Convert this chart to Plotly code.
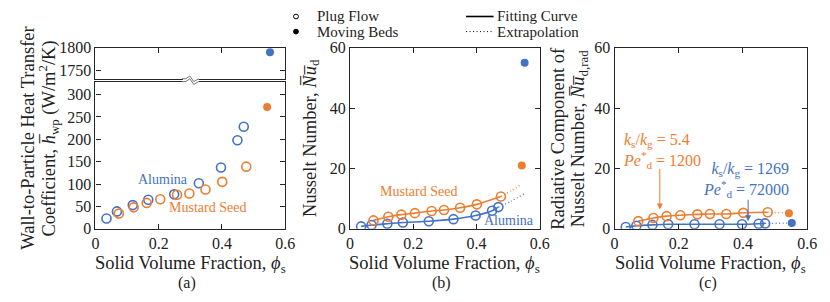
import plotly.graph_objects as go

# ---------------- data ----------------
phi_alumina = [0.035, 0.068, 0.118, 0.167, 0.249, 0.327, 0.397, 0.449, 0.469]
phi_mustard = [0.074, 0.121, 0.162, 0.205, 0.258, 0.297, 0.348, 0.401, 0.477]
phi_moving_alumina = [0.552]
phi_moving_mustard = [0.543]

h_alumina = [23, 39, 53, 65, 77, 102, 137, 198, 228]
h_mustard = [34, 48, 58, 66, 76, 79, 88, 105, 139]
h_moving_alumina = [1790]
h_moving_mustard = [272]

nu_alumina = [0.8, 1.25, 1.7, 2.1, 2.5, 3.2, 4.4, 6.0, 7.2]
nu_mustard = [2.8, 4.0, 4.7, 5.2, 5.9, 6.25, 7.0, 8.1, 10.7]
nu_moving_alumina = [55]
nu_moving_mustard = [21]
phi_extrap_alumina = [0.469, 0.51, 0.552]
nu_extrap_alumina = [7.2, 9.2, 11.7]
phi_extrap_mustard = [0.477, 0.51, 0.543]
nu_extrap_mustard = [10.7, 12.6, 14.8]

nurad_alumina = [0.6, 1.0, 1.3, 1.5, 1.5, 1.5, 1.5, 1.7, 1.8]
nurad_mustard = [2.55, 3.6, 4.2, 4.5, 4.8, 4.9, 4.9, 5.3, 5.5]
nurad_moving_alumina = [1.9]
nurad_moving_mustard = [5.2]

x_ticks = [0, 0.2, 0.4, 0.6]
x_ticklabels = ["0", "0.2", "0.4", "0.6"]
ya_low_ticks = [0, 50, 100, 150, 200, 250, 300]
ya_up_ticks = [1750, 1800]
y_nu_ticks = [0, 20, 40, 60]

legend_marker_labels = ["Plug Flow", "Moving Beds"]
legend_line_labels = ["Fitting Curve", "Extrapolation"]

BLUE = "#4472C4"
ORANGE = "#ED7D31"
AX = "#262626"
TXT = "#222222"
FONT = "'Liberation Serif', 'Times New Roman', 'DejaVu Serif', serif"
DOT = "1px,2.5px"
W, H = 830, 302


def px(xp):
    return xp / W


def py(yp):
    return 1 - yp / H


fig = go.Figure()


def open_pts(x, y, color, xa, ya):
    fig.add_trace(go.Scatter(x=x, y=y, mode="markers", xaxis=xa, yaxis=ya, showlegend=False,
                             marker=dict(symbol="circle-open", size=9, color=color,
                                         line=dict(width=1.6, color=color))))


def filled_pts(x, y, color, xa, ya):
    fig.add_trace(go.Scatter(x=x, y=y, mode="markers", xaxis=xa, yaxis=ya, showlegend=False,
                             marker=dict(symbol="circle", size=8, color=color)))


def fit_line(x, y, color, xa, ya, dotted=False):
    if dotted:
        line = dict(color=color, width=1.3, dash=DOT, shape="spline", smoothing=0.6)
    else:
        line = dict(color=color, width=1.6, shape="spline", smoothing=0.6)
    fig.add_trace(go.Scatter(x=x, y=y, mode="lines", xaxis=xa, yaxis=ya, showlegend=False, line=line))


# panel (a)
open_pts(phi_alumina, h_alumina, BLUE, "x", "y")
open_pts(phi_mustard, h_mustard, ORANGE, "x", "y")
filled_pts(phi_moving_mustard, h_moving_mustard, ORANGE, "x", "y")
filled_pts(phi_moving_alumina, h_moving_alumina, BLUE, "x2", "y2")

# panel (b)
fit_line(phi_alumina, nu_alumina, BLUE, "x3", "y3")
fit_line(phi_mustard, nu_mustard, ORANGE, "x3", "y3")
fit_line(phi_extrap_alumina, nu_extrap_alumina, BLUE, "x3", "y3", True)
fit_line(phi_extrap_mustard, nu_extrap_mustard, ORANGE, "x3", "y3", True)
open_pts(phi_alumina, nu_alumina, BLUE, "x3", "y3")
open_pts(phi_mustard, nu_mustard, ORANGE, "x3", "y3")
filled_pts(phi_moving_alumina, nu_moving_alumina, BLUE, "x3", "y3")
filled_pts(phi_moving_mustard, nu_moving_mustard, ORANGE, "x3", "y3")

# panel (c)
fit_line(phi_alumina, nurad_alumina, BLUE, "x4", "y4")
fit_line(phi_mustard, nurad_mustard, ORANGE, "x4", "y4")
fit_line([phi_alumina[-1], phi_moving_alumina[0]], [nurad_alumina[-1], nurad_moving_alumina[0]], BLUE, "x4", "y4", True)
fit_line([phi_mustard[-1], phi_moving_mustard[0]], [nurad_mustard[-1], nurad_moving_mustard[0]], ORANGE, "x4", "y4", True)
open_pts(phi_alumina, nurad_alumina, BLUE, "x4", "y4")
open_pts(phi_mustard, nurad_mustard, ORANGE, "x4", "y4")
filled_pts(phi_moving_alumina, nurad_moving_alumina, BLUE, "x4", "y4")
filled_pts(phi_moving_mustard, nurad_moving_mustard, ORANGE, "x4", "y4")

tickfont = dict(family=FONT, size=16, color=TXT)
xa_common = dict(range=[0, 0.6], tickvals=x_ticks, ticktext=x_ticklabels, ticks="inside", ticklen=5,
                 showline=True, linecolor=AX, linewidth=1.2, showgrid=False, zeroline=False,
                 tickcolor=AX, tickfont=tickfont, ticklabeloverflow="allow")
ya_common = dict(ticks="inside", ticklen=5, showline=True, linecolor=AX, linewidth=1.2, mirror="ticks",
                 showgrid=False, zeroline=False, tickcolor=AX, tickfont=tickfont, ticklabeloverflow="allow")

dom_a = [px(93), px(286)]
dom_b = [px(352), px(545)]
dom_c = [px(621), px(817)]
ydom = [py(234), py(42)]

fig.update_layout(
    width=W, height=H, margin=dict(l=0, r=0, t=0, b=0),
    paper_bgcolor="white", plot_bgcolor="white",
    font=dict(family=FONT, color=TXT),
    showlegend=False,
    xaxis=dict(domain=dom_a, anchor="y", mirror=True, **xa_common),
    yaxis=dict(domain=[py(234), py(78)], anchor="x", range=[0, 329], tickvals=ya_low_ticks, **ya_common),
    xaxis2=dict(domain=dom_a, anchor="y2", side="top", mirror=True, showticklabels=False, matches="x",
                **xa_common),
    yaxis2=dict(domain=[py(75), py(42)], anchor="x2", range=[1731, 1800], tickvals=ya_up_ticks, **ya_common),
    xaxis3=dict(domain=dom_b, anchor="y3", mirror="ticks", **xa_common),
    yaxis3=dict(domain=ydom, anchor="x3", range=[0, 60], tickvals=y_nu_ticks, **ya_common),
    xaxis4=dict(domain=dom_c, anchor="y4", mirror="ticks", **xa_common),
    yaxis4=dict(domain=ydom, anchor="x4", range=[0, 60], tickvals=y_nu_ticks, **ya_common),
)

ann = []
tf = dict(family=FONT, size=18.5, color=TXT)
# y titles
ann.append(dict(text="Wall-to-Particle Heat Transfer", x=px(25), y=py(138), textangle=-90, font=tf))
ann.append(dict(text="Coefficient, <i>h\u0305</i><sub>wp</sub> (W/m<sup>2</sup>/K)", x=px(45), y=py(138),
                textangle=-90, font=tf))
ann.append(dict(text="Nusselt Number, <i>N\u0305u\u0305</i><sub>d</sub>", x=px(312), y=py(138), textangle=-90, font=tf))
ann.append(dict(text="Radiative Component of", x=px(564), y=py(138), textangle=-90, font=tf))
ann.append(dict(text="Nusselt Number, <i>N\u0305u\u0305</i><sub>d,rad</sub>", x=px(585), y=py(138), textangle=-90,
                font=tf))
# x titles and panel letters
for cx, letter in [((93 + 286) / 2, "(a)"), ((352 + 545) / 2, "(b)"), ((621 + 817) / 2, "(c)")]:
    ann.append(dict(text="Solid Volume Fraction, <i>\u03d5</i><sub>s</sub>", x=px(cx), y=py(272), font=tf))
    ann.append(dict(text=letter, x=px(cx - 3), y=py(291), font=dict(family=FONT, size=16, color=TXT)))

lf = dict(family=FONT, size=14)
ann.append(dict(text="Alumina", xref="x", yref="y", x=0.214, y=110, font=dict(color=BLUE, **lf)))
ann.append(dict(text="Mustard Seed", xref="x", yref="y", x=0.353, y=48, font=dict(color=ORANGE, **lf)))
ann.append(dict(text="Mustard Seed", xref="x3", yref="y3", x=0.217, y=12.2, font=dict(color=ORANGE, **lf)))
ann.append(dict(text="Alumina", xref="x3", yref="y3", x=0.502, y=2.8, font=dict(color=BLUE, **lf)))

cf = dict(family=FONT, size=16)
ann.append(dict(text="<i>k</i><sub>s</sub>/<i>k</i><sub>g</sub> = 5.4<br><i>Pe</i><sup>*</sup><sub>d</sub> = 1200",
                x=px(628), y=py(151), xanchor="left", align="left", font=dict(color=ORANGE, **cf)))
ann.append(dict(text="<i>k</i><sub>s</sub>/<i>k</i><sub>g</sub> = 1269<br><i>Pe</i><sup>*</sup><sub>d</sub> = 72000",
                x=px(800), y=py(182), xanchor="right", align="right", font=dict(color=BLUE, **cf)))
# arrows
ann.append(dict(text="", xref="x4", yref="y4", x=0.141, y=6.4, showarrow=True, ax=0, ay=-42, arrowhead=2,
                arrowsize=1.2, arrowwidth=1, arrowcolor=ORANGE))
ann.append(dict(text="", xref="x4", yref="y4", x=0.416, y=2.5, showarrow=True, ax=0, ay=-23, arrowhead=2,
                arrowsize=1.2, arrowwidth=1, arrowcolor=BLUE))

# custom legend text
legf = dict(family=FONT, size=15, color=TXT)
for i, lab in enumerate(legend_marker_labels):
    ann.append(dict(text=lab, x=px(316), y=py(9 + 16 * i), xanchor="left", font=legf))
for i, lab in enumerate(legend_line_labels):
    ann.append(dict(text=lab, x=px(499), y=py(9 + 16 * i), xanchor="left", font=legf))

for a in ann:
    a.setdefault("xref", "paper")
    a.setdefault("yref", "paper")
    a.setdefault("showarrow", False)
    a.setdefault("xanchor", "center")
    a.setdefault("yanchor", "middle")
fig.update_layout(annotations=ann)

shapes = []
# legend symbols
shapes.append(dict(type="circle", xref="paper", yref="paper", x0=px(294.5), x1=px(299.5), y0=py(11.5), y1=py(6.5),
                   line=dict(color="black", width=1), fillcolor="white"))
shapes.append(dict(type="circle", xref="paper", yref="paper", x0=px(294.5), x1=px(299.5), y0=py(27.5), y1=py(22.5),
                   line=dict(color="black", width=1), fillcolor="black"))
shapes.append(dict(type="line", xref="paper", yref="paper", x0=px(470), x1=px(498), y0=py(9), y1=py(9),
                   line=dict(color="black", width=1.6)))
shapes.append(dict(type="line", xref="paper", yref="paper", x0=px(470), x1=px(498), y0=py(25), y1=py(25),
                   line=dict(color="black", width=1, dash=DOT)))

# axis break marks in panel (a)
shapes.append(dict(type="rect", xref="paper", yref="paper", x0=px(182), x1=px(198), y0=py(80), y1=py(73),
                   fillcolor="white", line=dict(width=0), layer="above"))
for yb in (75, 78):
    path = "M{},{} L{},{} L{},{} L{},{} L{},{}".format(
        px(181), py(yb), px(185), py(yb), px(189), py(yb - 3), px(193), py(yb + 3), px(198), py(yb))
    shapes.append(dict(type="path", xref="paper", yref="paper", path=path, line=dict(color="#777", width=1),
                       layer="above"))
fig.update_layout(shapes=shapes)

fig.write_html("out.html", config={"displayModeBar": False},
               post_script="document.body.style.margin='0px';document.body.style.overflow='hidden';")
